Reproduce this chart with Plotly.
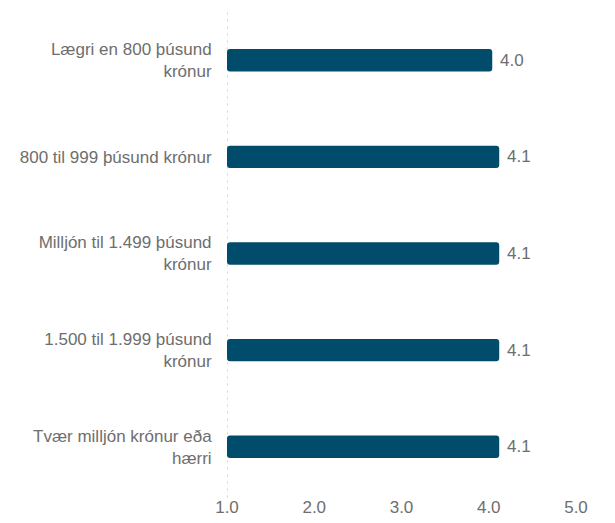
import plotly.graph_objects as go

categories = [
    "Lægri en 800 þúsund<br>krónur",
    "800 til 999 þúsund krónur",
    "Milljón til 1.499 þúsund<br>krónur",
    "1.500 til 1.999 þúsund<br>krónur",
    "Tvær milljón krónur eða<br>hærri",
]
values = [4.04, 4.12, 4.12, 4.12, 4.12]
x_ticks = [1, 2, 3, 4, 5]
x_tick_labels = ["1.0", "2.0", "3.0", "4.0", "5.0"]
base_value = 1

bar_color = "#024c6b"
text_color = "#6e6e6e"
font_family = "Liberation Sans, Arial, sans-serif"
fs = 17

fig = go.Figure()
fig.add_trace(go.Bar(
    y=categories,
    x=[v - base_value for v in values],
    base=base_value,
    orientation="h",
    width=0.232,
    marker=dict(color=bar_color, cornerradius=3, line=dict(width=0)),
    hoverinfo="skip",
))

for c, v in zip(categories, values):
    fig.add_annotation(
        x=v, y=c, xref="x", yref="y",
        text=f"{v:.1f}", showarrow=False,
        xanchor="left", yanchor="middle", xshift=6,
        font=dict(family=font_family, size=fs, color=text_color),
    )

fig.add_shape(
    type="line", xref="x", yref="paper",
    x0=base_value, x1=base_value, y0=-0.005, y1=1.005,
    line=dict(color="#d4d4d4", width=2, dash="2px,5px"),
    layer="below",
)

# page body has an 8px default margin, so the figure is 8px smaller
fig.update_layout(
    width=607, height=515,
    margin=dict(l=219, r=39, t=4, b=28, autoexpand=False),
    paper_bgcolor="white", plot_bgcolor="white",
    showlegend=False,
    font=dict(family=font_family, size=fs, color=text_color),
    xaxis=dict(
        range=[1, 5], tickvals=x_ticks, ticktext=x_tick_labels,
        showgrid=False, zeroline=False, showline=False,
        ticks="", tickfont=dict(size=fs, color=text_color),
        fixedrange=True, automargin=False,
    ),
    yaxis=dict(
        autorange="reversed", showgrid=False, zeroline=False, showline=False,
        ticks="outside", ticklen=11, tickcolor="rgba(0,0,0,0)",
        tickfont=dict(size=fs, color=text_color),
        fixedrange=True, automargin=False,
    ),
)

fig.write_html("out.html")
